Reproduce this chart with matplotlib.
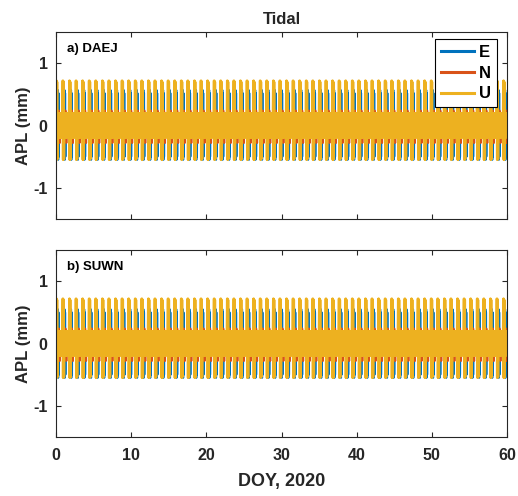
import numpy as np
import matplotlib
matplotlib.use("Agg")
import matplotlib.pyplot as plt

# ---- data ----
# Tidal APL repeats a short cycle; one cycle of hourly values (mm) per component.
STEP_HOURS = 1
N_DAYS = 60
U_CYCLE_A = [0.72, -0.55, 0.72, -0.55, 0.70, -0.54, 0.20, -0.19, 0.19, -0.20, 0.20,
             -0.18, 0.18, -0.20, 0.20, -0.19, 0.19, -0.18, 0.20, -0.20, 0.19]
E_CYCLE_A = [0.10, -0.10, 0.10, -0.10, 0.10, -0.10, 0.57, -0.55, 0.52, -0.50, 0.10,
             -0.10, 0.10, -0.10, 0.10, -0.10, 0.10, -0.10, 0.10, -0.10, 0.10]
N_CYCLE_A = [0.05, -0.05, 0.05, -0.05, 0.05, -0.05, 0.05, -0.05, 0.05, 0.24, -0.05,
             0.05, -0.28, 0.05, -0.05, 0.05, -0.05, 0.05, -0.05, 0.05, -0.05]
U_CYCLE_B = [0.72, -0.55, 0.72, -0.55, 0.70, -0.54, 0.20, -0.19, 0.19, -0.20, 0.20,
             -0.18, 0.18, -0.20, 0.20, -0.19, 0.19, -0.18, 0.20, -0.20, 0.19]
E_CYCLE_B = [0.10, -0.10, 0.10, -0.10, 0.10, -0.10, 0.55, -0.55, 0.50, -0.50, 0.10,
             -0.10, 0.10, -0.10, 0.10, -0.10, 0.10, -0.10, 0.10, -0.10, 0.10]
N_CYCLE_B = [0.05, -0.05, 0.05, -0.05, 0.05, -0.05, 0.05, -0.05, 0.05, 0.24, -0.05,
             0.05, -0.28, 0.05, -0.05, 0.05, -0.05, 0.05, -0.05, 0.05, -0.05]

STATIONS = ["a) DAEJ", "b) SUWN"]
COMPONENTS = ["E", "N", "U"]
COLORS = ["#0072BD", "#D95319", "#EDB120"]
XTICKS = [0, 10, 20, 30, 40, 50, 60]
YTICKS = [-1, 0, 1]

n_samples = N_DAYS * 24 // STEP_HOURS + 1
t = np.arange(n_samples) * STEP_HOURS / 24.0

def series(cycle):
    c = np.asarray(cycle)
    reps = int(np.ceil(n_samples / len(c)))
    return np.tile(c, reps)[:n_samples]

data = [
    [series(E_CYCLE_A), series(N_CYCLE_A), series(U_CYCLE_A)],
    [series(E_CYCLE_B), series(N_CYCLE_B), series(U_CYCLE_B)],
]

plt.rcParams['font.family'] = ['Liberation Sans', 'DejaVu Sans']
plt.rcParams['font.weight'] = 'bold'
plt.rcParams['axes.unicode_minus'] = False
AX_COLOR = '#262626'

fig = plt.figure(figsize=(5.18, 4.96), dpi=100)
positions = [
    [56/518, 1-219/496, 451/518, 187/496],
    [56/518, 1-437/496, 451/518, 187/496],
]

for i, pos in enumerate(positions):
    ax = fig.add_axes(pos)
    for comp, col, y in zip(COMPONENTS, COLORS, data[i]):
        ax.plot(t, y, color=col, lw=1.5, label=comp)
    ax.set_xlim(0, 60)
    ax.set_ylim(-1.5, 1.5)
    ax.set_xticks(XTICKS)
    ax.set_yticks(YTICKS)
    ax.tick_params(direction='in', top=True, right=True, length=3.5,
                   width=0.8, color=AX_COLOR, labelsize=11.5, labelcolor=AX_COLOR)
    ax.tick_params(axis='x', pad=8)
    ax.tick_params(axis='y', pad=6)
    for lab in ax.get_xticklabels() + ax.get_yticklabels():
        lab.set_fontweight('bold')
    for sp in ax.spines.values():
        sp.set_color(AX_COLOR)
        sp.set_linewidth(0.8)
    ax.set_ylabel('APL (mm)', fontsize=12, fontweight='bold', color=AX_COLOR, labelpad=2)
    ax.text(11/451, 1-11/187, STATIONS[i], transform=ax.transAxes, fontsize=9.5,
            fontweight='bold', va='top', ha='left', color='black')
    if i == 0:
        ax.set_xticklabels([])
        ax.set_title('Tidal', fontsize=12, fontweight='bold', color=AX_COLOR, pad=6)
        leg = ax.legend(loc='upper right', bbox_to_anchor=(1-10/451, 1-7/187),
                        frameon=True, fancybox=False, borderaxespad=0, framealpha=1,
                        handlelength=2.0, handletextpad=0.3, labelspacing=0.35,
                        borderpad=0.35, prop={'weight': 'bold', 'size': 12})
        leg.get_frame().set_edgecolor('black')
        leg.get_frame().set_linewidth(0.8)
        for lh in leg.get_lines():
            lh.set_linewidth(2.2)
    else:
        ax.set_xlabel('DOY, 2020', fontsize=13, fontweight='bold', color=AX_COLOR, labelpad=7)

fig.savefig('out.png', dpi=100)
